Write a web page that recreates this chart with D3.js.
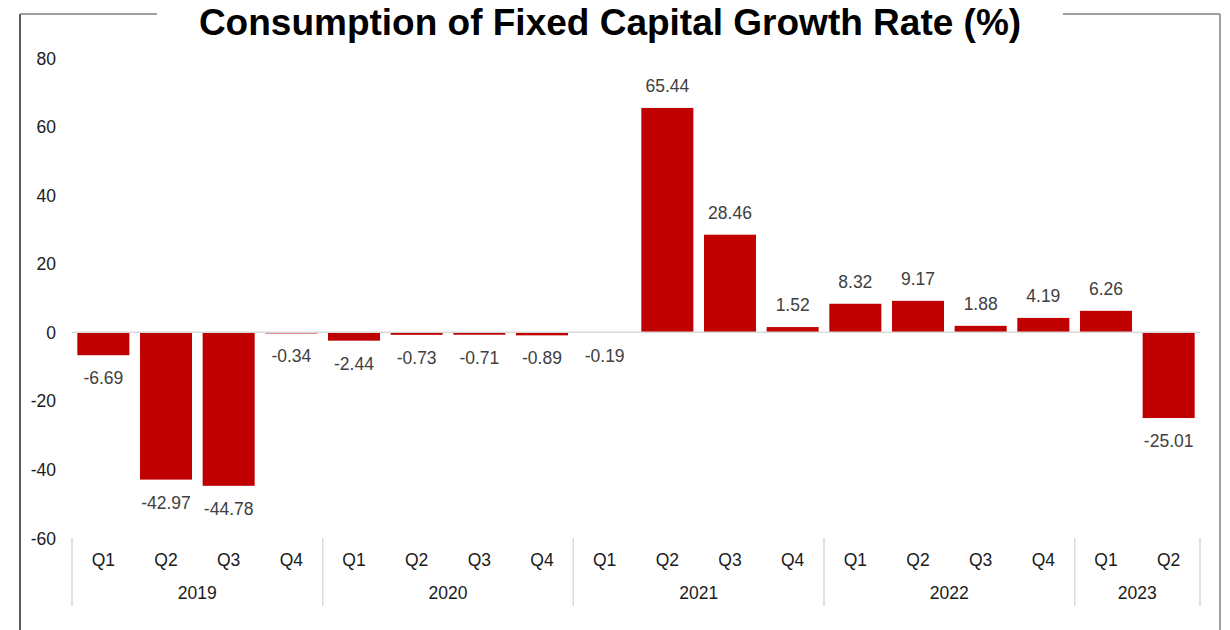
<!DOCTYPE html>
<html><head><meta charset="utf-8">
<script src="https://cdn.jsdelivr.net/npm/d3@7"></script>
<style>body{margin:0;background:#fff}svg{display:block;font-family:Arial,"Liberation Sans",sans-serif}</style>
</head><body>
<svg id="c" width="1230" height="630"></svg>
<script>
const years = ["2019","2020","2021","2022","2023"];
const quarters = ["Q1","Q2","Q3","Q4","Q1","Q2","Q3","Q4","Q1","Q2","Q3","Q4","Q1","Q2","Q3","Q4","Q1","Q2"];
const quarterYears = ["2019","2019","2019","2019","2020","2020","2020","2020","2021","2021","2021","2021","2022","2022","2022","2022","2023","2023"];
const values = [-6.69,-42.97,-44.78,-0.34,-2.44,-0.73,-0.71,-0.89,-0.19,65.44,28.46,1.52,8.32,9.17,1.88,4.19,6.26,-25.01];
const yTicks = [80,60,40,20,0,-20,-40,-60];
const title = "Consumption of Fixed Capital Growth Rate (%)";

const svg = d3.select("#c");
const keys = values.map((v,i)=>i);
const x = d3.scaleBand().domain(keys).range([72,1200]).paddingInner(0.17).paddingOuter(0.085);
const y = d3.scaleLinear().domain([-60,80]).range([538,58]);

// frame
const frameC = "#7f7f7f";
svg.append("line").attr("x1",20).attr("x2",20).attr("y1",14).attr("y2",630).attr("stroke","#262626").attr("stroke-width",1.5);
svg.append("line").attr("x1",1220).attr("x2",1220).attr("y1",14).attr("y2",630).attr("stroke",frameC).attr("stroke-width",1.5);
svg.append("line").attr("x1",20).attr("x2",157).attr("y1",14).attr("y2",14).attr("stroke",frameC).attr("stroke-width",1.5);
svg.append("line").attr("x1",1063).attr("x2",1220).attr("y1",14).attr("y2",14).attr("stroke",frameC).attr("stroke-width",1.5);

// title
svg.append("text").attr("x",610).attr("y",35).attr("text-anchor","middle")
  .attr("font-size",37).attr("font-weight","bold").attr("fill","#000").text(title);

// y axis labels
const yAxis = d3.axisLeft(y).tickValues(yTicks).tickSize(0).tickPadding(0).tickFormat(d=>String(d));
const ya = svg.append("g").attr("transform","translate(56,0)").call(yAxis);
ya.select(".domain").remove();
ya.selectAll("text").attr("font-size",17.5).attr("fill","#1a1a1a").attr("font-family","Arial, 'Liberation Sans', sans-serif").attr("dy","0.35em");

// bars
svg.append("g").selectAll("rect").data(values).join("rect")
  .attr("x",(d,i)=>x(i)).attr("width",x.bandwidth())
  .attr("y",d=>y(Math.max(0,d))).attr("height",d=>Math.abs(y(d)-y(0)))
  .attr("fill","#c00000");

// zero line
svg.append("line").attr("x1",72).attr("x2",1200).attr("y1",y(0)).attr("y2",y(0)).attr("stroke","#d9d9d9").attr("stroke-width",1.5);

// value labels
svg.append("g").selectAll("text").data(values).join("text")
  .attr("x",(d,i)=>x(i)+x.bandwidth()/2)
  .attr("y",d=> d>=0 ? y(d)-16 : y(d)+29)
  .attr("text-anchor","middle").attr("font-size",17.5).attr("fill","#404040")
  .text(d=>d.toFixed(2));

// category axis
const qa = d3.axisBottom(x).tickFormat(i=>quarters[i]).tickSize(0).tickPadding(0);
const g = svg.append("g").attr("transform","translate(0,566)").call(qa);
g.select(".domain").remove();
g.selectAll("text").attr("font-size",17.5).attr("fill","#1a1a1a").attr("dy",0).attr("font-family","Arial, 'Liberation Sans', sans-serif");

// year labels and dividers
const step = x.step();
const bounds = [];
years.forEach(yr=>{
  const idx = keys.filter(i=>quarterYears[i]===yr);
  const x0 = x(idx[0]) - x.paddingInner()*step/2 - (idx[0]===0? x.paddingOuter()*step - x.paddingInner()*step/2 : 0);
  const last = idx[idx.length-1];
  const x1 = x(last) + x.bandwidth() + x.paddingInner()*step/2 + (last===values.length-1 ? x.paddingOuter()*step - x.paddingInner()*step/2 : 0);
  bounds.push(x0, x1);
  svg.append("text").attr("x",(x0+x1)/2).attr("y",599).attr("text-anchor","middle")
    .attr("font-size",17.5).attr("fill","#1a1a1a").text(yr);
});
const uniq = Array.from(new Set(bounds.map(b=>Math.round(b*10)/10)));
svg.append("g").selectAll("line").data(uniq).join("line")
  .attr("x1",d=>d).attr("x2",d=>d).attr("y1",538).attr("y2",606)
  .attr("stroke","#d9d9d9").attr("stroke-width",1.5);
</script>
</body></html>
